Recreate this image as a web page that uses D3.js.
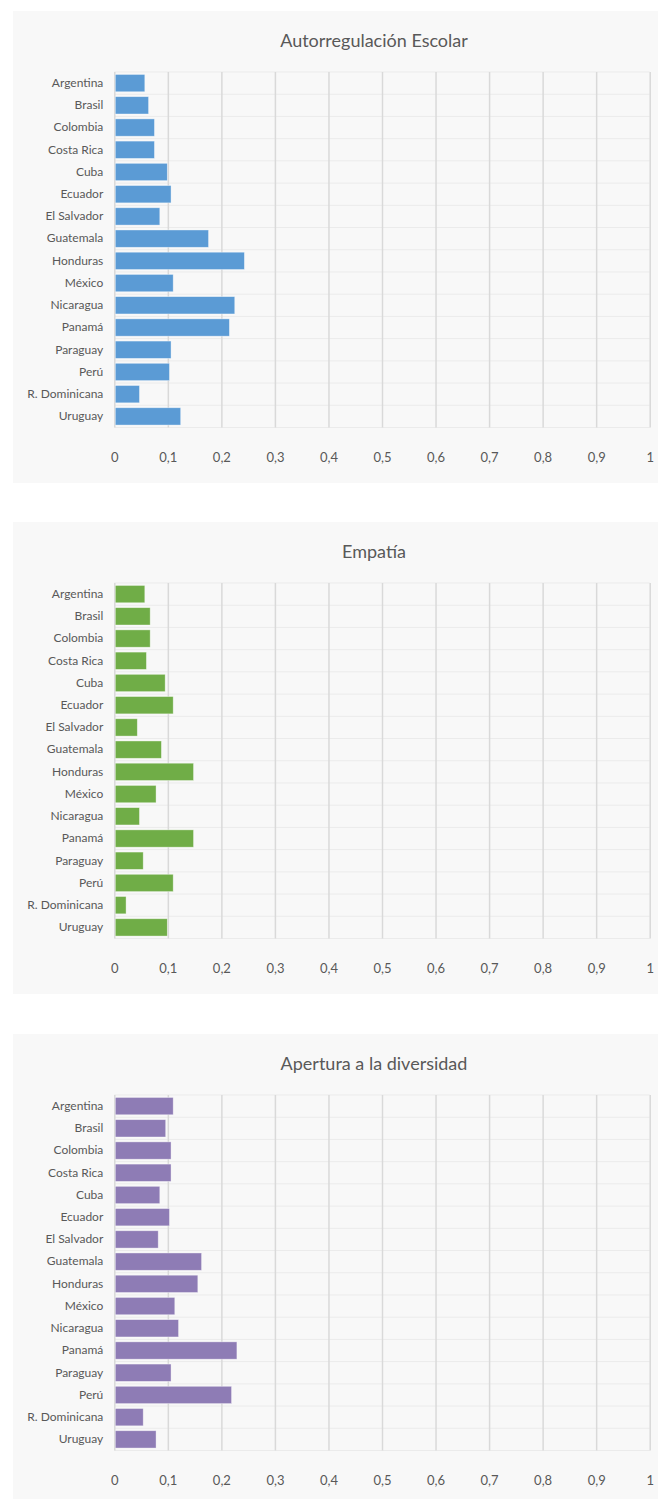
<!DOCTYPE html>
<html>
<head>
<meta charset="utf-8">
<script src="https://cdn.jsdelivr.net/npm/d3@7"></script>
<style>
  html, body { margin: 0; padding: 0; background: #ffffff; }
  svg { display: block; }
  text { font-family: Lato, "Noto Sans", sans-serif; fill: #595959; }
</style>
</head>
<body>
<svg id="chart" width="658" height="1499"></svg>
<script>
// Countries, top to bottom
const countries = ["Argentina", "Brasil", "Colombia", "Costa Rica", "Cuba", "Ecuador",
  "El Salvador", "Guatemala", "Honduras", "México", "Nicaragua", "Panamá",
  "Paraguay", "Perú", "R. Dominicana", "Uruguay"];

// Values per dimension
const autorregulacion = [0.057, 0.064, 0.075, 0.075, 0.099, 0.106, 0.085, 0.176,
  0.243, 0.110, 0.225, 0.215, 0.106, 0.103, 0.047, 0.124];
const empatia = [0.057, 0.067, 0.067, 0.060, 0.095, 0.110, 0.043, 0.088,
  0.148, 0.078, 0.047, 0.148, 0.054, 0.110, 0.022, 0.099];
const apertura = [0.110, 0.096, 0.106, 0.106, 0.085, 0.103, 0.082, 0.163,
  0.156, 0.113, 0.120, 0.229, 0.106, 0.219, 0.054, 0.078];

const titles = ["Autorregulación Escolar", "Empatía", "Apertura a la diversidad"];
const colors = ["#5B9BD5", "#70AD47", "#8E7CB5"];
const xTicks = [0, 0.1, 0.2, 0.3, 0.4, 0.5, 0.6, 0.7, 0.8, 0.9, 1];

const panels = [
  { title: titles[0], values: autorregulacion, color: colors[0], top: 11 },
  { title: titles[1], values: empatia, color: colors[1], top: 522 },
  { title: titles[2], values: apertura, color: colors[2], top: 1034 }
];

const svg = d3.select("#chart");
const panelLeft = 13, panelWidth = 645, panelHeight = 472;
const plotLeft = 114.3, plotRight = 649.7;
const plotTopOffset = 61, plotHeight = 355.5;

const x = d3.scaleLinear().domain([0, 1]).range([plotLeft, plotRight]);
const fmt = d => d3.format(".1~f")(d).replace(".", ",");

panels.forEach(p => {
  const g = svg.append("g");
  g.append("rect")
    .attr("x", panelLeft).attr("y", p.top)
    .attr("width", panelWidth).attr("height", Math.min(panelHeight, 1499 - p.top))
    .attr("fill", "#f8f8f8");

  g.append("text")
    .attr("x", 374).attr("y", p.top + 31)
    .attr("text-anchor", "middle").attr("dominant-baseline", "middle")
    .style("font-size", "18px")
    .text(p.title);

  const y0 = p.top + plotTopOffset;
  const y = d3.scaleBand().domain(countries)
    .range([y0, y0 + plotHeight]).paddingInner(0.22).paddingOuter(0.11);
  const step = y.step();

  // horizontal gridlines at category boundaries
  g.append("g").selectAll("line")
    .data(d3.range(countries.length + 1))
    .join("line")
    .attr("x1", plotLeft).attr("x2", plotRight)
    .attr("y1", i => y0 + i * step).attr("y2", i => y0 + i * step)
    .attr("stroke", "#ebebeb").attr("stroke-width", 1);

  // vertical gridlines + tick labels via axis
  const axis = d3.axisBottom(x).tickValues(xTicks).tickFormat(fmt)
    .tickSize(-plotHeight).tickPadding(25);
  const ax = g.append("g")
    .attr("transform", `translate(0,${y0 + plotHeight})`)
    .call(axis);
  ax.select(".domain").remove();
  ax.selectAll(".tick line").attr("stroke", "#d9d9d9").attr("stroke-width", 1.5);
  ax.selectAll(".tick text")
    .style("font-size", "13px").style("font-family", "Lato, 'Noto Sans', sans-serif")
    .attr("fill", "#595959");

  // bars
  g.append("g").selectAll("rect")
    .data(countries.map((c, i) => ({ c, v: p.values[i] })))
    .join("rect")
    .attr("x", x(0) + 1)
    .attr("y", d => y(d.c))
    .attr("width", d => x(d.v) - x(0) - 1)
    .attr("height", y.bandwidth())
    .attr("fill", p.color)
    .attr("stroke", "#ffffff").attr("stroke-opacity", 0.5).attr("stroke-width", 0.75);

  // category labels
  const yAxis = d3.axisLeft(y).tickSize(0).tickPadding(11);
  const ya = g.append("g").attr("transform", `translate(${plotLeft},0)`).call(yAxis);
  ya.select(".domain").remove();
  ya.selectAll(".tick text")
    .style("font-size", "12px").style("font-family", "Lato, 'Noto Sans', sans-serif")
    .attr("fill", "#595959");
});
</script>
</body>
</html>
